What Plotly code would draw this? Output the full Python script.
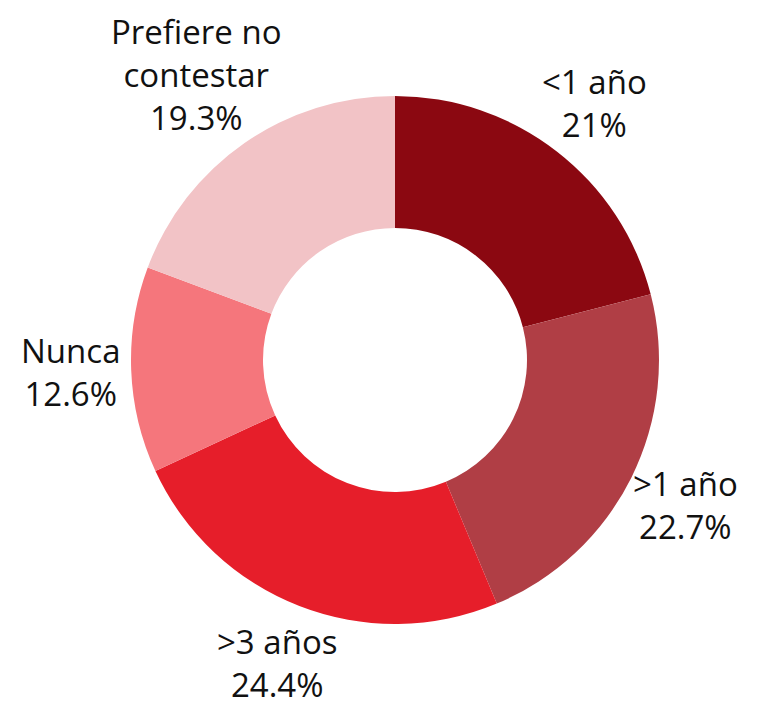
import math
import plotly.graph_objects as go

labels = ["<1 año", ">1 año", ">3 años", "Nunca", "Prefiere no<br>contestar"]
values = [21.0, 22.7, 24.4, 12.6, 19.3]
colors = ["#8B0811", "#B03E45", "#E61E2A", "#F5767C", "#F2C3C6"]

W, H = 760, 702
# pie placement (paper pixels)
pie_cx, pie_cy, pie_r = 387, 352, 264
dom_x = [(pie_cx - pie_r) / W, (pie_cx + pie_r) / W]
dom_y = [1 - (pie_cy + pie_r) / H, 1 - (pie_cy - pie_r) / H]
FONT_SIZE = 33
label_gap = 15      # px beyond the rim
line_push = 23      # px further out per text line

fig = go.Figure(go.Pie(
    labels=labels,
    values=values,
    hole=0.5,
    sort=False,
    direction="clockwise",
    rotation=0,
    domain=dict(x=dom_x, y=dom_y),
    marker=dict(colors=colors, line=dict(width=0)),
    textinfo="none",
    hoverinfo="label+percent",
    showlegend=False,
))

# outside labels placed on each slice's mid-angle ray
total = sum(values)
cx = (dom_x[0] + dom_x[1]) / 2
cy = (dom_y[0] + dom_y[1]) / 2
cum = 0.0
for lab, v in zip(labels, values):
    mid = (cum + v / 2) / total * 2 * math.pi
    cum += v
    pct = f"{v / total * 100:.3g}%"
    text = f"{lab}<br>{pct}"
    n_lines = text.count("<br>") + 1
    d = pie_r + label_gap + line_push * n_lines
    x = cx + d * math.sin(mid) / W
    y = cy + d * math.cos(mid) / H
    fig.add_annotation(
        x=x, y=y, xref="paper", yref="paper",
        text=text, showarrow=False,
        xanchor="center", yanchor="middle", align="center",
        font=dict(family="Open Sans", size=FONT_SIZE, color="#111111"),
    )

fig.update_layout(
    width=W, height=H,
    margin=dict(l=0, r=0, t=0, b=0),
    paper_bgcolor="white",
    plot_bgcolor="white",
)
fig.write_html("out.html")
